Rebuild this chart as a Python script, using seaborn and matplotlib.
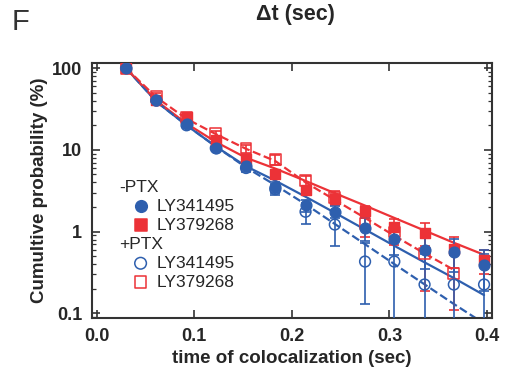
import numpy as np
import pandas as pd
import matplotlib
matplotlib.use("Agg")
import matplotlib.pyplot as plt
import seaborn as sns
from matplotlib.ticker import LogLocator, NullFormatter, FixedLocator

# time points (sec)
t = [0.030, 0.061, 0.092, 0.122, 0.153, 0.183, 0.214, 0.244, 0.275, 0.305, 0.336, 0.366, 0.397]

# -PTX
ly341_minus = [100, 41, 21, 10.5, 6.3, 3.5, 2.1, 1.75, 1.11, 0.81, 0.60, 0.57, 0.39]
ly341_minus_err = [0, 3, 1.5, 0.6, 0.4, 0.5, 0.35, 0.3, 0.35, 0.3, 0.25, 0.25, 0.2]
ly379_minus = [100, 41, 25, 13.2, 7.8, 5.0, 3.2, 2.5, 1.77, 1.14, 0.97, 0.61, 0.45]
ly379_minus_err = [0, 2.5, 1.5, 0.8, 0.6, 0.5, 0.4, 0.35, 0.3, 0.3, 0.3, 0.25, 0.15]

# +PTX
ly341_plus = [100, 40, 20, 10.5, 6.0, 3.3, 1.75, 1.22, 0.43, 0.43, 0.225, 0.225, 0.225]
ly341_plus_err = [0, 3, 1.5, 0.8, 0.6, 0.5, 0.5, 0.55, 0.3, 0.35, 0.3, 0.3, 0.3]
ly379_plus = [100, 45, 25, 15.7, 10.3, 7.6, 4.2, 2.6, 1.25, 0.99, 0.54, 0.31]
ly379_plus_err = [0, 4, 2.5, 1.5, 1.2, 1.0, 0.6, 0.5, 0.4, 0.3, 0.35, 0.2]

# fitted curves (at the same time points)
fit_341_minus = [100, 39, 20, 11, 6.3, 4.2, 2.67, 1.70, 1.06, 0.67, 0.42, 0.27, 0.167]
fit_379_minus = [100, 40, 21, 12.5, 8.0, 5.9, 4.17, 2.95, 2.08, 1.47, 1.03, 0.73, 0.52]
fit_341_plus = [100, 39, 20, 11, 6.1, 3.7, 2.16, 1.24, 0.70, 0.40, 0.226, 0.13, 0.075]
fit_379_plus = [100, 44, 24, 15.6, 10.3, 7.3, 4.0, 2.44, 1.47, 0.89, 0.54, 0.34]

BLUE = "#2e5fae"
RED = "#ec3237"

sns.set_style("ticks")
plt.rcParams['font.family'] = ['Liberation Sans', 'DejaVu Sans']

fig = plt.figure(figsize=(5.05, 3.70), dpi=100)
ax = fig.add_axes([0.182, 0.141, 0.792, 0.689])

fits = [
    (fit_341_minus, BLUE, "-"),
    (fit_379_minus, RED, "-"),
    (fit_341_plus, BLUE, "--"),
    (fit_379_plus, RED, "--"),
]
for ys, col, ls in fits:
    d = pd.DataFrame({"t": t[:len(ys)], "p": ys})
    sns.lineplot(data=d, x="t", y="p", color=col, linestyle=ls, lw=1.6, ax=ax)

series = [
    (ly379_plus, ly379_plus_err, RED, "s", False, "LY379268"),
    (ly341_plus, ly341_plus_err, BLUE, "o", False, "LY341495"),
    (ly379_minus, ly379_minus_err, RED, "s", True, "LY379268"),
    (ly341_minus, ly341_minus_err, BLUE, "o", True, "LY341495"),
]
handles = {}
for ys, err, col, mk, filled, name in series:
    xs = t[:len(ys)]
    ax.errorbar(xs, ys, yerr=err, fmt="none", ecolor=col, elinewidth=1.2,
                capsize=3.5, capthick=1.2, zorder=3)
    d = pd.DataFrame({"t": xs, "p": ys})
    sns.scatterplot(data=d, x="t", y="p", marker=mk, s=60,
                    facecolor=col if filled else "none", edgecolor=col,
                    linewidth=1.0 if filled else 1.1, ax=ax, zorder=4)
    h = ax.scatter([], [], marker=mk, s=70, facecolor=col if filled else "none",
                   edgecolor=col, linewidth=1.1)
    handles[(name, filled)] = h

ax.set_yscale("log")
ax.set_xlim(-0.005, 0.405)
ax.set_ylim(0.088, 116)
ax.set_xticks([0.0, 0.1, 0.2, 0.3, 0.4])
ax.set_xticklabels(["0.0", "0.1", "0.2", "0.3", "0.4"])
ax.yaxis.set_major_locator(FixedLocator([0.1, 1, 10, 100]))
ax.set_yticklabels(["0.1", "1", "10", "100"])
ax.yaxis.set_minor_locator(LogLocator(base=10, subs=np.arange(2, 10)))
ax.yaxis.set_minor_formatter(NullFormatter())

ax.tick_params(which="both", direction="in", top=True, right=True, color="#333333")
ax.tick_params(which="major", length=6, width=1.2, labelsize=13, pad=7)
ax.tick_params(which="minor", length=3, width=0.9)
for lab in ax.get_xticklabels() + ax.get_yticklabels():
    lab.set_fontweight("bold")
for sp in ax.spines.values():
    sp.set_linewidth(1.5)
    sp.set_color("#333333")

ax.set_xlabel("time of colocalization (sec)", fontsize=13.5, fontweight="bold", labelpad=4)
ax.set_ylabel("Cumultive probability (%)", fontsize=13.5, fontweight="bold", labelpad=3)

fig.text(0.585, 0.962, "\u0394t (sec)", fontsize=15.5, fontweight="bold", ha="center", va="center")
fig.text(0.024, 0.94, "F", fontsize=21, ha="left", va="center", color="#333333")

blank = plt.Line2D([], [], linestyle="none")
leg_handles = [blank, handles[("LY341495", True)], handles[("LY379268", True)],
               blank, handles[("LY341495", False)], handles[("LY379268", False)]]
leg_labels = ["-PTX", "LY341495", "LY379268", "+PTX", "LY341495", "LY379268"]
leg = ax.legend(leg_handles, leg_labels, loc="lower left", bbox_to_anchor=(0.1, 0.11),
                frameon=False, fontsize=12.5, handletextpad=0.4, labelspacing=0.22,
                handlelength=1.0, borderaxespad=0.0, borderpad=0.0)
for i in (0, 3):
    leg.get_texts()[i].set_position((-37, 0))

fig.savefig("out.png", dpi=100)
